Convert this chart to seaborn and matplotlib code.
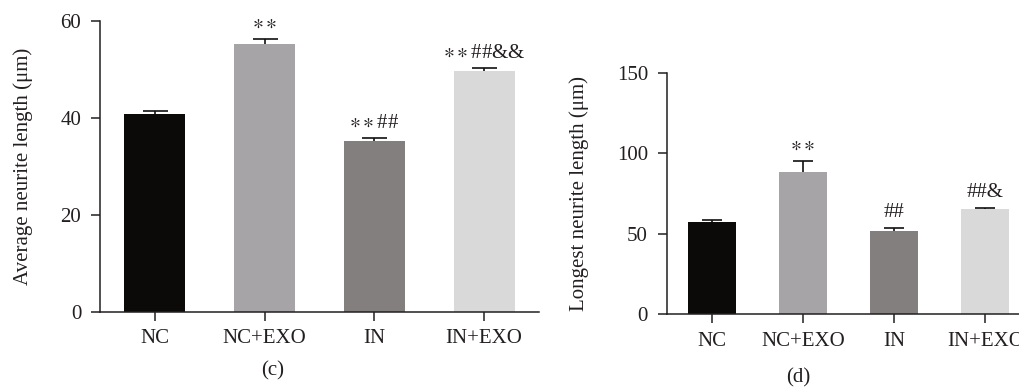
import matplotlib
matplotlib.use("Agg")
import matplotlib.pyplot as plt
import seaborn as sns

# Group names and summary statistics (mean + SEM)
groups = ["NC", "NC+EXO", "IN", "IN+EXO"]
avg_mean = [40.7, 55.2, 35.2, 49.6]
avg_err = [0.7, 1.0, 0.55, 0.6]
avg_marks = ["", r"$\ast\ast$", r"$\ast\ast$##", r"$\ast\ast$##&&"]

long_mean = [57.3, 88.3, 51.7, 65.4]
long_err = [1.2, 6.7, 1.9, 0.6]
long_marks = ["", r"$\ast\ast$", "##", "##&"]

bar_colors = ["#0b0a08", "#a6a4a7", "#837f7e", "#d9d9d9"]

sns.set_theme(style="ticks")
plt.rcParams["font.family"] = ["Liberation Serif", "DejaVu Serif"]
plt.rcParams["mathtext.fontset"] = "stix"

FS = 15
INK = "#231f20"

W, H = 1019, 389
fig = plt.figure(figsize=(W / 100, H / 100), dpi=100)

ax1 = fig.add_axes([100 / W, 1 - 311.7 / H, 439 / W, 291 / H])
ax2 = fig.add_axes([666.7 / W, 1 - 314.3 / H, 364 / W, 241.6 / H])


def draw_panel(ax, means, errs, marks, width, capsize, ymax, yticks, ylabel, label_x):
    sns.barplot(x=groups, y=means, hue=groups, palette=bar_colors, saturation=1,
                width=width, legend=False, ax=ax, edgecolor="none")
    _, caps, _ = ax.errorbar(range(len(groups)), means, yerr=[[0] * len(errs), errs],
                             fmt="none", ecolor="#111111", elinewidth=1.2,
                             capsize=capsize, capthick=1.2)
    # one-sided bars: keep only the upper cap
    caps[0].set_visible(False)
    for i, (m, e, t) in enumerate(zip(means, errs, marks)):
        if t:
            ax.annotate(t, (i, m + e), xytext=(0, 4), textcoords="offset points",
                        ha="center", va="bottom", fontsize=FS, color=INK,
                        annotation_clip=False)
    ax.set_xlim(-0.5, 3.5)
    ax.set_ylim(0, ymax)
    ax.set_yticks(yticks)
    ax.set_xlabel("")
    ax.set_ylabel(ylabel, fontsize=FS, color=INK)
    ax.yaxis.set_label_coords(label_x, 0.5)
    for side in ("top", "right"):
        ax.spines[side].set_visible(False)
    for side in ("left", "bottom"):
        ax.spines[side].set_color(INK)
        ax.spines[side].set_linewidth(1.1)
    ax.tick_params(axis="both", labelsize=FS, length=6.5, width=1.1, color=INK,
                   labelcolor=INK)
    ax.tick_params(axis="y", pad=7)
    ax.tick_params(axis="x", pad=6)


draw_panel(ax1, avg_mean, avg_err, avg_marks, 0.555, 9, 60, [0, 20, 40, 60],
           "Average neurite length (\u03bcm)", -0.152)
draw_panel(ax2, long_mean, long_err, long_marks, 0.533, 7.2, 150, [0, 50, 100, 150],
           "Longest neurite length (\u03bcm)", -0.213)

fig.text(273 / W, 1 - 371 / H, "(c)", ha="center", va="center", fontsize=FS, color=INK)
fig.text(798 / W, 1 - 378 / H, "(d)", ha="center", va="center", fontsize=FS, color=INK)

fig.savefig("out.png", dpi=100)
